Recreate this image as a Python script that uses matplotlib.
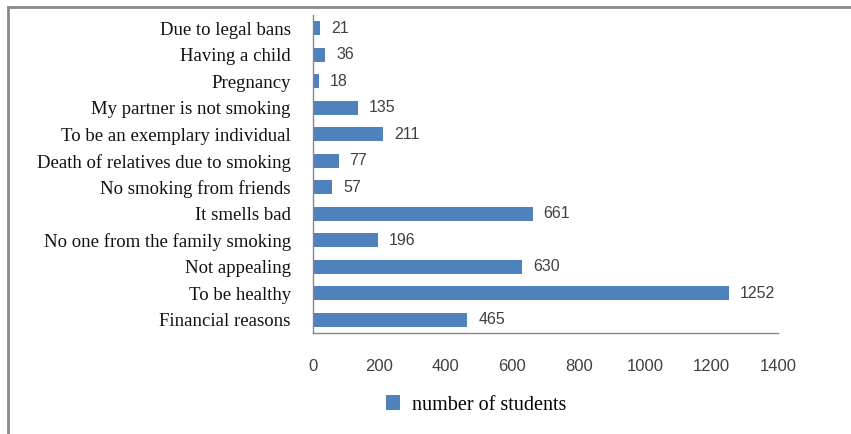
import matplotlib.pyplot as plt
from matplotlib.lines import Line2D

# data (top to bottom as shown in the chart)
reasons = ['Due to legal bans', 'Having a child', 'Pregnancy',
           'My partner is not smoking', 'To be an exemplary individual',
           'Death of relatives due to smoking', 'No smoking from friends',
           'It smells bad', 'No one from the family smoking',
           'Not appealing', 'To be healthy', 'Financial reasons']
students = [21, 36, 18, 135, 211, 77, 57, 661, 196, 630, 1252, 465]
xticks = [0, 200, 400, 600, 800, 1000, 1200, 1400]

bar_color = '#4F81BD'
serif = 'Liberation Serif'
sans = 'Liberation Sans'

fig = plt.figure(figsize=(8.51, 4.34), dpi=100)
ax = fig.add_axes([313 / 851, 1 - 333 / 434, 465 / 851, 318 / 434])

ypos = list(range(len(reasons)))[::-1]
ax.barh(ypos, students, height=0.53, color=bar_color, label='number of students')

# value labels next to each bar
for y, v in zip(ypos, students):
    ax.annotate(str(v), (v, y), xytext=(11, 0), textcoords='offset pixels',
                va='center', ha='left', fontsize=11.5, family=sans, color='#404040')

ax.set_ylim(-0.5, len(reasons) - 0.5)
ax.set_xlim(0, 1400)
ax.set_yticks(ypos)
ax.set_yticklabels(reasons, family=serif, fontsize=13.5, color='#111111')
ax.set_xticks(xticks)
ax.set_xticklabels([str(t) for t in xticks], family=sans, fontsize=12, color='#404040')
ax.tick_params(axis='both', length=0)
ax.tick_params(axis='y', pad=16)
ax.tick_params(axis='x', pad=19)

for s in ['top', 'right']:
    ax.spines[s].set_visible(False)
for s in ['left', 'bottom']:
    ax.spines[s].set_color('#868686')
    ax.spines[s].set_linewidth(1.0)

fig.legend(loc='center', bbox_to_anchor=(476 / 851, 1 - 405 / 434),
           frameon=False, handlelength=0.7, handleheight=0.7,
           handletextpad=0.6, prop={'family': serif, 'size': 14.5})

# outer frame (top and left edges visible)
fig.add_artist(Line2D([8 / 851, 1], [1 - 7 / 434, 1 - 7 / 434], color='#8a8a8a', lw=2))
fig.add_artist(Line2D([8 / 851, 8 / 851], [0, 1 - 7 / 434], color='#8a8a8a', lw=2))

fig.savefig('out.png', dpi=100)
